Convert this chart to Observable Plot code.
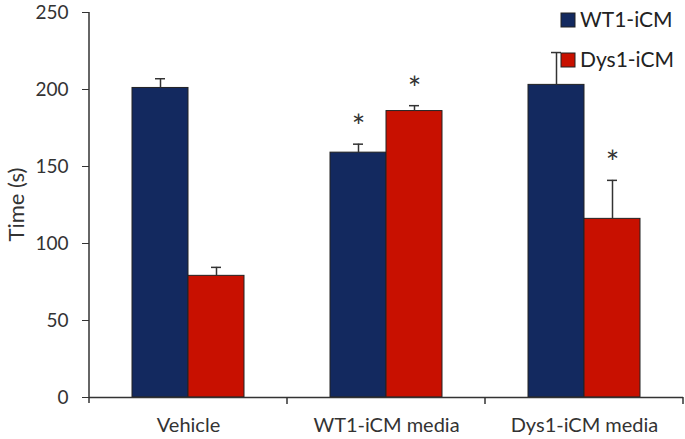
<!DOCTYPE html>
<html>
<head>
<meta charset="utf-8">
<script src="https://cdn.jsdelivr.net/npm/d3@7"></script>
<script src="https://cdn.jsdelivr.net/npm/@observablehq/plot@0.6"></script>
<style>
  html, body { margin: 0; padding: 0; background: #fff; }
  #chart { position: relative; width: 685px; height: 439px; }
</style>
</head>
<body>
<div id="chart"></div>
<script>
const groups = ["Vehicle", "WT1-iCM media", "Dys1-iCM media"];
const series = ["WT1-iCM", "Dys1-iCM"];
const wt1Values = [201, 159, 203];
const wt1Errors = [6, 5.5, 21];
const wt1Star = [false, true, false];
const dys1Values = [79, 186, 116];
const dys1Errors = [5.5, 3.5, 25];
const dys1Star = [false, true, true];
const yTicks = [0, 50, 100, 150, 200, 250];
const yLabel = "Time (s)";
const colors = ["#13295f", "#c81000"];

const rows = [];
groups.forEach((g, i) => {
  rows.push({group: g, series: series[0], value: wt1Values[i], err: wt1Errors[i], star: wt1Star[i]});
  rows.push({group: g, series: series[1], value: dys1Values[i], err: dys1Errors[i], star: dys1Star[i]});
});
const errTop = d => d.value + d.err;

const ink = "#333";
const font = "Lato, 'Open Sans', sans-serif";
const chart = Plot.plot({
  width: 685,
  height: 439,
  marginLeft: 88,
  marginRight: 2,
  marginTop: 12,
  marginBottom: 42,
  style: {fontFamily: font, fontSize: "18px", color: ink, background: "#fff"},
  fx: {domain: groups, padding: 0, label: null},
  x: {domain: series, paddingInner: 0, paddingOuter: 0.737, axis: null},
  y: {domain: [0, 250]},
  color: {domain: series, range: colors},
  marks: [
    Plot.axisY({ticks: yTicks, tickSize: 7, tickPadding: 14, stroke: ink, fill: ink, fontSize: 19, label: null}),
    Plot.axisFx({anchor: "bottom", tickSize: 0, tickPadding: 20, fontSize: 20, fill: ink, label: null}),
    Plot.barY(rows, {fx: "group", x: "series", y: "value", fill: "series", stroke: "#222", strokeWidth: 1}),
    Plot.ruleX(rows, {fx: "group", x: "series", y1: "value", y2: errTop, stroke: ink, strokeWidth: 1.5}),
    Plot.tickY(rows, {fx: "group", x: "series", y: errTop, stroke: ink, strokeWidth: 1.5, insetLeft: 23, insetRight: 23}),
    Plot.text(rows.filter(d => d.star), {fx: "group", x: "series", y: errTop, text: () => "*",
      lineAnchor: "bottom", dy: -6, fontSize: 32, fill: ink}),
    Plot.ruleY([0], {stroke: ink, strokeWidth: 1.5})
  ]
});

document.getElementById("chart").appendChild(chart);

// y-axis line, y label and category boundary ticks, positioned from the plot's own scales
const svg = d3.select(chart);
const fx = chart.scale("fx");
const y = chart.scale("y");
const y0 = y.apply(0), y1 = y.apply(250);
const xLeft = fx.apply(groups[0]);
svg.append("line").attr("x1", xLeft).attr("x2", xLeft).attr("y1", y1).attr("y2", y0 + 6)
  .attr("stroke", ink).attr("stroke-width", 1.5);
groups.forEach(g => {
  const xb = fx.apply(g) + fx.bandwidth;
  svg.append("line").attr("x1", xb).attr("x2", xb).attr("y1", y0).attr("y2", y0 + 7)
    .attr("stroke", ink).attr("stroke-width", 1.5);
});
svg.append("text")
  .attr("transform", `translate(16,${(y0 + y1) / 2}) rotate(-90)`)
  .attr("text-anchor", "middle").attr("dy", "0.35em")
  .style("font-family", font).style("font-size", "22px").attr("fill", ink)
  .text(yLabel);

// legend (inside the plot, top right)
const legend = svg.append("g").style("font-family", font).style("font-size", "21px")
  .attr("fill", "#222").attr("text-anchor", "start");
series.forEach((s, i) => {
  const cy = 20 + i * 40;
  legend.append("rect").attr("x", 561).attr("y", cy - 7).attr("width", 14).attr("height", 14)
    .attr("fill", colors[i]).attr("stroke", "#222").attr("stroke-width", 1);
  legend.append("text").attr("x", 580).attr("y", cy).attr("dy", "0.35em").text(s);
});
</script>
</body>
</html>
